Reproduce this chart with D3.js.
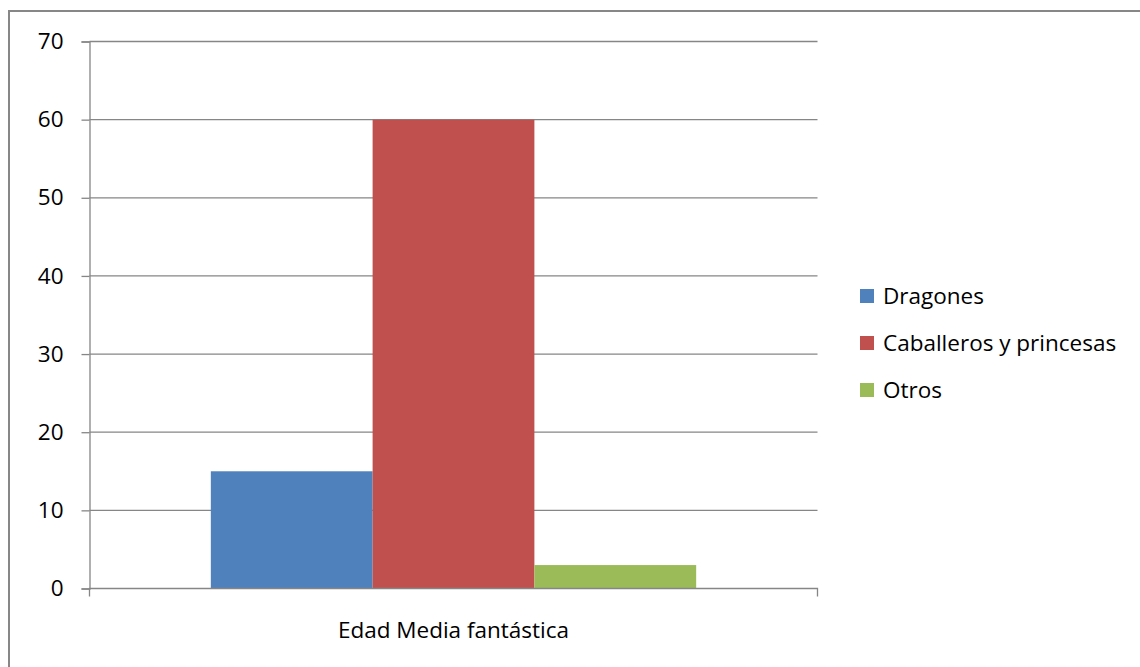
<!DOCTYPE html>
<html>
<head>
<meta charset="utf-8">
<script src="https://cdn.jsdelivr.net/npm/d3@7"></script>
<style>
  html, body { margin: 0; padding: 0; background: #fff; }
  svg text { font-family: "Open Sans", "Noto Sans", sans-serif; fill: #000; }
</style>
</head>
<body>
<svg id="chart" width="1140" height="667"></svg>
<script>
// Chart data
const categories = ["Edad Media fantástica"];
const seriesNames = ["Dragones", "Caballeros y princesas", "Otros"];
const seriesValues = [[15], [60], [3]];
const seriesColors = ["#4f81bd", "#c0504d", "#9bbb59"];
const yTicks = [0, 10, 20, 30, 40, 50, 60, 70];

const svg = d3.select("#chart");
const W = 1140, H = 667;
const margin = { left: 89.5, right: W - 817.5, top: 41.5, bottom: H - 588.5 };
const fontSize = "22.5px";

// Outer frame
svg.append("rect")
  .attr("x", 9).attr("y", 11)
  .attr("width", W + 20).attr("height", H + 20)
  .attr("fill", "none").attr("stroke", "#878787").attr("stroke-width", 2);

const x0 = d3.scaleBand()
  .domain(categories)
  .range([margin.left, W - margin.right])
  .paddingInner(0).paddingOuter(0);

const y = d3.scaleLinear()
  .domain([0, 70])
  .range([H - margin.bottom, margin.top]);

// Gridlines
svg.append("g")
  .selectAll("line")
  .data(yTicks.filter(d => d > 0))
  .join("line")
  .attr("x1", margin.left).attr("x2", W - margin.right)
  .attr("y1", d => y(d)).attr("y2", d => y(d))
  .attr("stroke", "#868686").attr("stroke-width", 1.3);

// Bars: series grouped inside the category band, 50% gap
const groupWidth = x0.bandwidth() / 1.5;
const x1 = d3.scaleBand()
  .domain(seriesNames)
  .range([0, groupWidth]);

const groups = svg.append("g")
  .selectAll("g")
  .data(categories)
  .join("g")
  .attr("transform", c => `translate(${x0(c) + (x0.bandwidth() - groupWidth) / 2},0)`);

groups.selectAll("rect")
  .data((c, ci) => seriesNames.map((s, si) => ({ s, v: seriesValues[si][ci], color: seriesColors[si] })))
  .join("rect")
  .attr("x", d => x1(d.s))
  .attr("width", x1.bandwidth())
  .attr("y", d => y(d.v))
  .attr("height", d => y(0) - y(d.v))
  .attr("fill", d => d.color);

// Y axis
const yAxis = d3.axisLeft(y).tickValues(yTicks).tickSize(8).tickPadding(18);
const gy = svg.append("g")
  .attr("transform", `translate(${margin.left},0)`)
  .call(yAxis);
gy.select(".domain").attr("stroke", "#868686").attr("stroke-width", 1.3);
gy.selectAll(".tick line").attr("stroke", "#868686").attr("stroke-width", 1.3);
gy.selectAll(".tick text").style("font-size", fontSize);

// X axis
const xAxis = d3.axisBottom(x0).tickSize(0).tickPadding(34);
const gx = svg.append("g")
  .attr("transform", `translate(0,${y(0)})`)
  .call(xAxis);
gx.select(".domain").attr("stroke", "#868686").attr("stroke-width", 1.3)
  .attr("d", `M${margin.left},8V0H${W - margin.right}V8`);
gx.selectAll(".tick text").style("font-size", fontSize);

// Legend
const legend = svg.append("g").attr("transform", "translate(860,0)");
const legendY = [296, 343, 390];
seriesNames.forEach((name, i) => {
  legend.append("rect")
    .attr("x", 0).attr("y", legendY[i] - 7)
    .attr("width", 14).attr("height", 14)
    .attr("fill", seriesColors[i]);
  legend.append("text")
    .attr("x", 23).attr("y", legendY[i])
    .attr("dy", "0.35em")
    .style("font-size", fontSize)
    .text(name);
});
</script>
</body>
</html>
